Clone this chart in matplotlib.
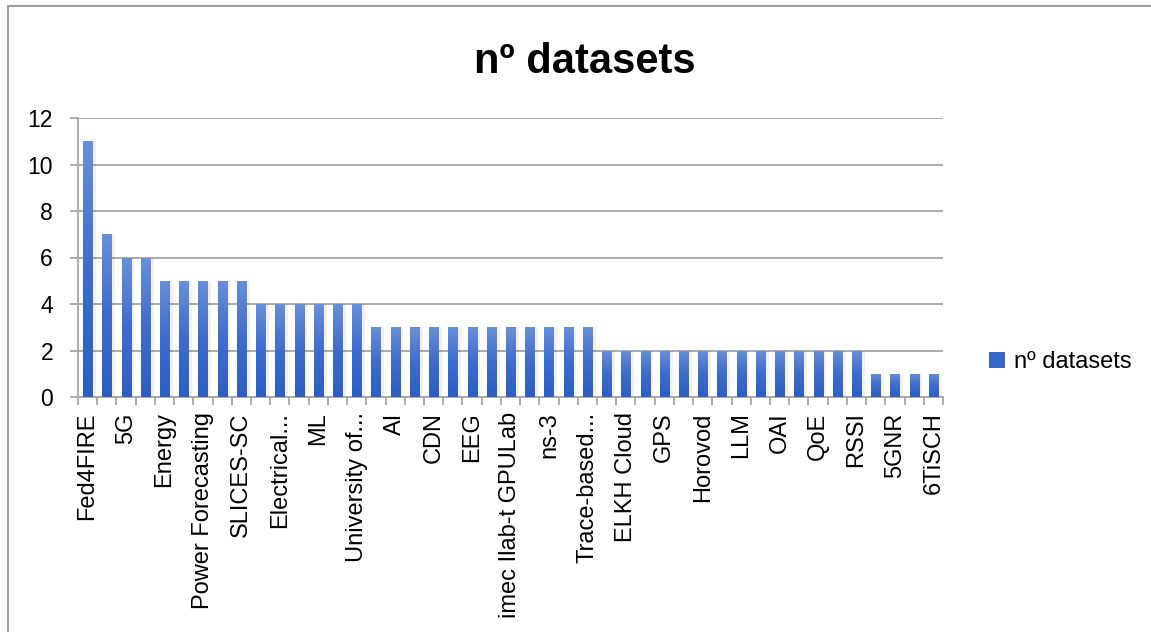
import matplotlib
matplotlib.use("Agg")
import matplotlib.pyplot as plt
import numpy as np
from matplotlib.colors import LinearSegmentedColormap
from matplotlib.patches import Rectangle

# data, 45 categories, only every other label is shown
values = [11, 7, 6, 6, 5, 5, 5, 5, 5, 4, 4, 4, 4, 4, 4,
          3, 3, 3, 3, 3, 3, 3, 3, 3, 3, 3, 3,
          2, 2, 2, 2, 2, 2, 2, 2, 2, 2, 2, 2, 2, 2,
          1, 1, 1, 1]
shown_labels = ['Fed4FIRE', '5G', 'Energy', 'Power Forecasting', 'SLICES-SC',
                'Electrical...', 'ML', 'University of...', 'AI', 'CDN', 'EEG',
                'imec Ilab-t GPULab', 'ns-3', 'Trace-based...', 'ELKH Cloud',
                'GPS', 'Horovod', 'LLM', 'OAI', 'QoE', 'RSSI', '5GNR', '6TiSCH']
series_name = 'nº datasets'
yticks = [0, 2, 4, 6, 8, 10, 12]

plt.rcParams['font.family'] = ['Liberation Sans', 'DejaVu Sans']

fig = plt.figure(figsize=(11.51, 6.32), dpi=100)
ax = fig.add_axes([78/1151, 1-397/632, (943-78)/1151, (397-118)/632])

x = np.arange(len(values))
grid_col = '#a6a6a6'
bar_cmap = LinearSegmentedColormap.from_list('bar', ['#2d5ebf', '#3f6cc9', '#6a8fd6'])

# soft shadow to the right, like excel
ax.bar(x + 0.12, values, width=0.62, color='#000000', alpha=0.06, zorder=2)
bars = ax.bar(x, values, width=0.47, color='#3a66c6', zorder=3, label=series_name)

grad = np.linspace(0, 1, 256).reshape(-1, 1)
for b in bars:
    bx, by = b.get_x(), b.get_y()
    im = ax.imshow(grad, cmap=bar_cmap, aspect='auto', origin='lower',
                   extent=[bx, bx + b.get_width(), by, by + b.get_height()],
                   zorder=4)
    im.set_clip_path(b)

ax.set_xlim(-0.5, len(values) - 0.5)
ax.set_ylim(0, 12)
ax.set_yticks(yticks)
ax.yaxis.grid(True, color=grid_col, lw=1.3, zorder=0)
ax.set_axisbelow(True)

ax.set_xticks(x[::2])
ax.set_xticklabels(shown_labels, rotation=90, fontsize=17, va='top', ha='center')
ax.set_xticks(np.arange(-0.5, len(values), 1), minor=True)
ax.tick_params(axis='x', which='major', length=0, pad=11)
ax.tick_params(axis='x', which='minor', length=6, color=grid_col, width=1.3)
ax.tick_params(axis='y', length=6, color=grid_col, width=1.3, labelsize=16.5, pad=12)

for s in ['top', 'right']:
    ax.spines[s].set_visible(False)
for s in ['left', 'bottom']:
    ax.spines[s].set_color(grid_col)
    ax.spines[s].set_linewidth(1.3)

fig.text(0.508, 0.902, series_name, ha='center', va='center',
         fontsize=30, fontweight='bold')

ax.legend(handles=[bars], loc='center left', bbox_to_anchor=(0.851, 0.427),
          bbox_transform=fig.transFigure, frameon=False, fontsize=17,
          handlelength=0.7, handleheight=0.7, handletextpad=0.35,
          borderaxespad=0)

# chart frame
fig.patches.append(Rectangle((8/1151, -0.2), 1.2, 1.2 - 6/632,
                             transform=fig.transFigure, fill=False,
                             edgecolor='#a0a0a0', lw=1.5))

fig.savefig('out.png', dpi=100)
